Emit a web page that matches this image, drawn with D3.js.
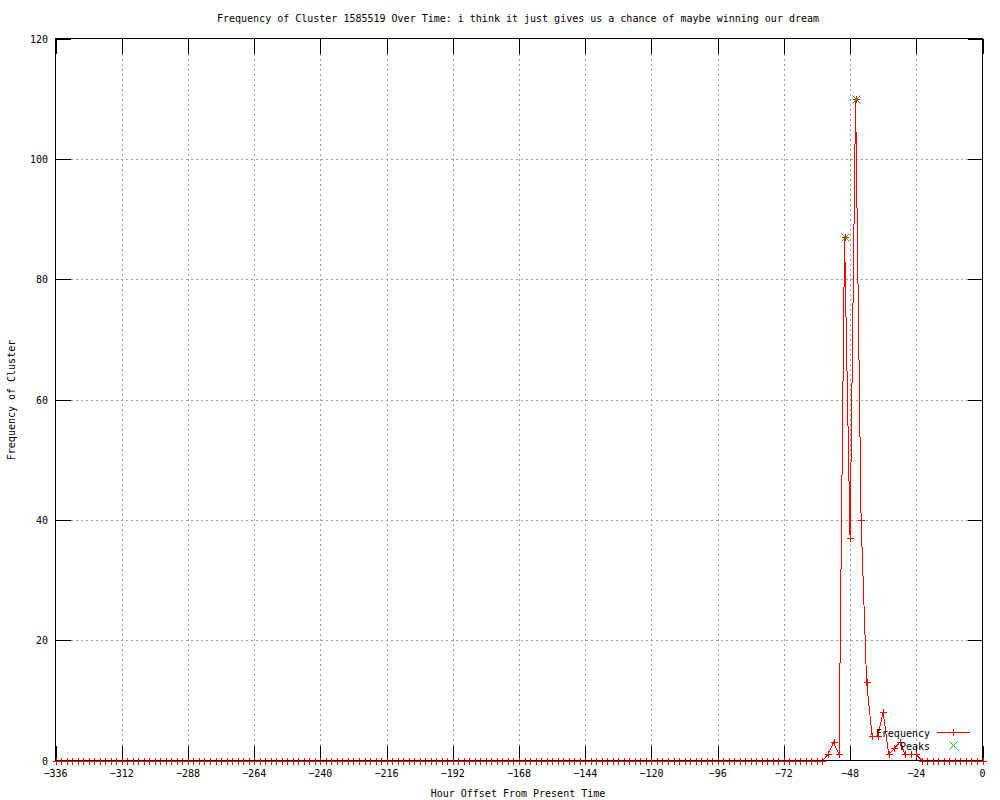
<!DOCTYPE html>
<html>
<head>
<meta charset="utf-8">
<script src="https://cdn.jsdelivr.net/npm/d3@7"></script>
<style>
  body { margin: 0; background: #fff; }
  text { font-family: "DejaVu Sans Mono", "Liberation Mono", monospace; font-size: 10px; fill: #000; }
</style>
</head>
<body>
<svg id="chart" width="1000" height="800"></svg>
<script>
// hour offsets of each sample (every 2 hours)
const hours = [
  -336, -334, -332, -330, -328, -326, -324, -322, -320, -318, -316, -314, -312,
  -310, -308, -306, -304, -302, -300, -298, -296, -294, -292, -290, -288,
  -286, -284, -282, -280, -278, -276, -274, -272, -270, -268, -266, -264,
  -262, -260, -258, -256, -254, -252, -250, -248, -246, -244, -242, -240,
  -238, -236, -234, -232, -230, -228, -226, -224, -222, -220, -218, -216,
  -214, -212, -210, -208, -206, -204, -202, -200, -198, -196, -194, -192,
  -190, -188, -186, -184, -182, -180, -178, -176, -174, -172, -170, -168,
  -166, -164, -162, -160, -158, -156, -154, -152, -150, -148, -146, -144,
  -142, -140, -138, -136, -134, -132, -130, -128, -126, -124, -122, -120,
  -118, -116, -114, -112, -110, -108, -106, -104, -102, -100, -98, -96,
  -94, -92, -90, -88, -86, -84, -82, -80, -78, -76, -74, -72,
  -70, -68, -66, -64, -62, -60, -58, -56, -54, -52, -50, -48,
  -46, -44, -42, -40, -38, -36, -34, -32, -30, -28, -26, -24,
  -22, -20, -18, -16, -14, -12, -10, -8, -6, -4, -2, 0
];
const frequency = [
  0, 0, 0, 0, 0, 0, 0, 0, 0, 0, 0, 0, 0,
  0, 0, 0, 0, 0, 0, 0, 0, 0, 0, 0, 0,
  0, 0, 0, 0, 0, 0, 0, 0, 0, 0, 0, 0,
  0, 0, 0, 0, 0, 0, 0, 0, 0, 0, 0, 0,
  0, 0, 0, 0, 0, 0, 0, 0, 0, 0, 0, 0,
  0, 0, 0, 0, 0, 0, 0, 0, 0, 0, 0, 0,
  0, 0, 0, 0, 0, 0, 0, 0, 0, 0, 0, 0,
  0, 0, 0, 0, 0, 0, 0, 0, 0, 0, 0, 0,
  0, 0, 0, 0, 0, 0, 0, 0, 0, 0, 0, 0,
  0, 0, 0, 0, 0, 0, 0, 0, 0, 0, 0, 0,
  0, 0, 0, 0, 0, 0, 0, 0, 0, 0, 0, 0,
  0, 0, 0, 0, 0, 0, 0, 1, 3, 1, 87, 37,
  110, 40, 13, 4, 4, 8, 1, 2, 3, 1, 1, 1,
  0, 0, 0, 0, 0, 0, 0, 0, 0, 0, 0, 0
];
const peakHours = [-50, -46];
const peakValues = [87, 110];

const xTicks = [-336, -312, -288, -264, -240, -216, -192, -168, -144, -120, -96, -72, -48, -24, 0];
const yTicks = [0, 20, 40, 60, 80, 100, 120];

const title = "Frequency of Cluster 1585519 Over Time: i think it just gives us a chance of maybe winning our dream";
const xLabel = "Hour Offset From Present Time";
const yLabel = "Frequency of Cluster";

const svg = d3.select("#chart");
const plotL = 55.5, plotR = 982.5, plotT = 38.5, plotB = 760.5;
const tickLen = 15;

const x = d3.scaleLinear().domain([-336, 0]).range([plotL, plotR]);
const y = d3.scaleLinear().domain([0, 120]).range([plotB, plotT]);

// grid
const grid = svg.append("g")
    .attr("stroke", "#a0a0a0")
    .attr("stroke-dasharray", "2,3")
    .attr("shape-rendering", "crispEdges");
grid.selectAll("line.v")
    .data(xTicks.filter(d => d > -336 && d < 0))
    .join("line")
    .attr("class", "v")
    .attr("x1", d => Math.round(x(d)) + 0.5).attr("x2", d => Math.round(x(d)) + 0.5)
    .attr("y1", plotB).attr("y2", plotT);
grid.selectAll("line.h")
    .data(yTicks.filter(d => d > 0 && d < 120))
    .join("line")
    .attr("class", "h")
    .attr("y1", d => Math.round(y(d)) + 0.5).attr("y2", d => Math.round(y(d)) + 0.5)
    .attr("x1", plotL).attr("x2", plotR);

// ticks (mirrored on all sides)
const ticks = svg.append("g").attr("stroke", "#000").attr("shape-rendering", "crispEdges");
xTicks.forEach(d => {
    const px = Math.round(x(d)) + 0.5;
    ticks.append("line").attr("x1", px).attr("x2", px).attr("y1", plotB).attr("y2", plotB - tickLen);
    ticks.append("line").attr("x1", px).attr("x2", px).attr("y1", plotT).attr("y2", plotT + tickLen);
});
yTicks.forEach(d => {
    const py = Math.round(y(d)) + 0.5;
    ticks.append("line").attr("y1", py).attr("y2", py).attr("x1", plotL).attr("x2", plotL + tickLen);
    ticks.append("line").attr("y1", py).attr("y2", py).attr("x1", plotR).attr("x2", plotR - tickLen);
});

// tick labels
svg.append("g").selectAll("text")
    .data(xTicks)
    .join("text")
    .attr("x", d => x(d))
    .attr("y", 777)
    .attr("text-anchor", "middle")
    .text(d => d === 0 ? "0" : "\u2212" + Math.abs(d));
svg.append("g").selectAll("text")
    .data(yTicks)
    .join("text")
    .attr("x", 48)
    .attr("y", d => y(d) + 4)
    .attr("text-anchor", "end")
    .text(d => d);

// titles
svg.append("text").attr("x", 518).attr("y", 22).attr("text-anchor", "middle").text(title);
svg.append("text").attr("x", 518).attr("y", 797).attr("text-anchor", "middle").text(xLabel);
svg.append("text")
    .attr("transform", "translate(15,400) rotate(-90)")
    .attr("text-anchor", "middle")
    .text(yLabel);

// frequency line + points
const data = hours.map((h, i) => ({ h, v: frequency[i] }));
const line = d3.line().x(d => x(d.h)).y(d => y(d.v));
svg.append("path")
    .datum(data)
    .attr("fill", "none")
    .attr("stroke", "#ff0000")
    .attr("stroke-width", 1)
    .attr("shape-rendering", "crispEdges")
    .attr("d", line);

const plus = (g, cx, cy, color) => {
    const px = Math.round(cx) + 0.5, py = Math.round(cy) + 0.5;
    g.append("path")
        .attr("d", `M${px - 3.5},${py}H${px + 3.5}M${px},${py - 3.5}V${py + 3.5}`)
        .attr("stroke", color).attr("fill", "none").attr("shape-rendering", "crispEdges");
};
const cross = (g, cx, cy, color) => {
    const px = Math.round(cx) + 0.5, py = Math.round(cy) + 0.5;
    g.append("path")
        .attr("d", `M${px - 4},${py - 4}L${px + 4},${py + 4}M${px - 4},${py + 4}L${px + 4},${py - 4}`)
        .attr("stroke", color).attr("fill", "none");
};

const pts = svg.append("g");
data.forEach(d => plus(pts, x(d.h), y(d.v), "#ff0000"));

// peaks
const pk = svg.append("g");
peakHours.forEach((h, i) => cross(pk, x(h), y(peakValues[i]), "#00c000"));

// border
svg.append("rect")
    .attr("x", plotL).attr("y", plotT)
    .attr("width", plotR - plotL).attr("height", plotB - plotT)
    .attr("fill", "none").attr("stroke", "#000")
    .attr("shape-rendering", "crispEdges");

// legend
const lg = svg.append("g");
lg.append("text").attr("x", 930).attr("y", 737).attr("text-anchor", "end").text("Frequency");
lg.append("line").attr("x1", 937).attr("x2", 970).attr("y1", 732.5).attr("y2", 732.5)
    .attr("stroke", "#ff0000").attr("shape-rendering", "crispEdges");
plus(lg, 953, 732, "#ff0000");
lg.append("text").attr("x", 930).attr("y", 750).attr("text-anchor", "end").text("Peaks");
cross(lg, 953, 745, "#00c000");
</script>
</body>
</html>
